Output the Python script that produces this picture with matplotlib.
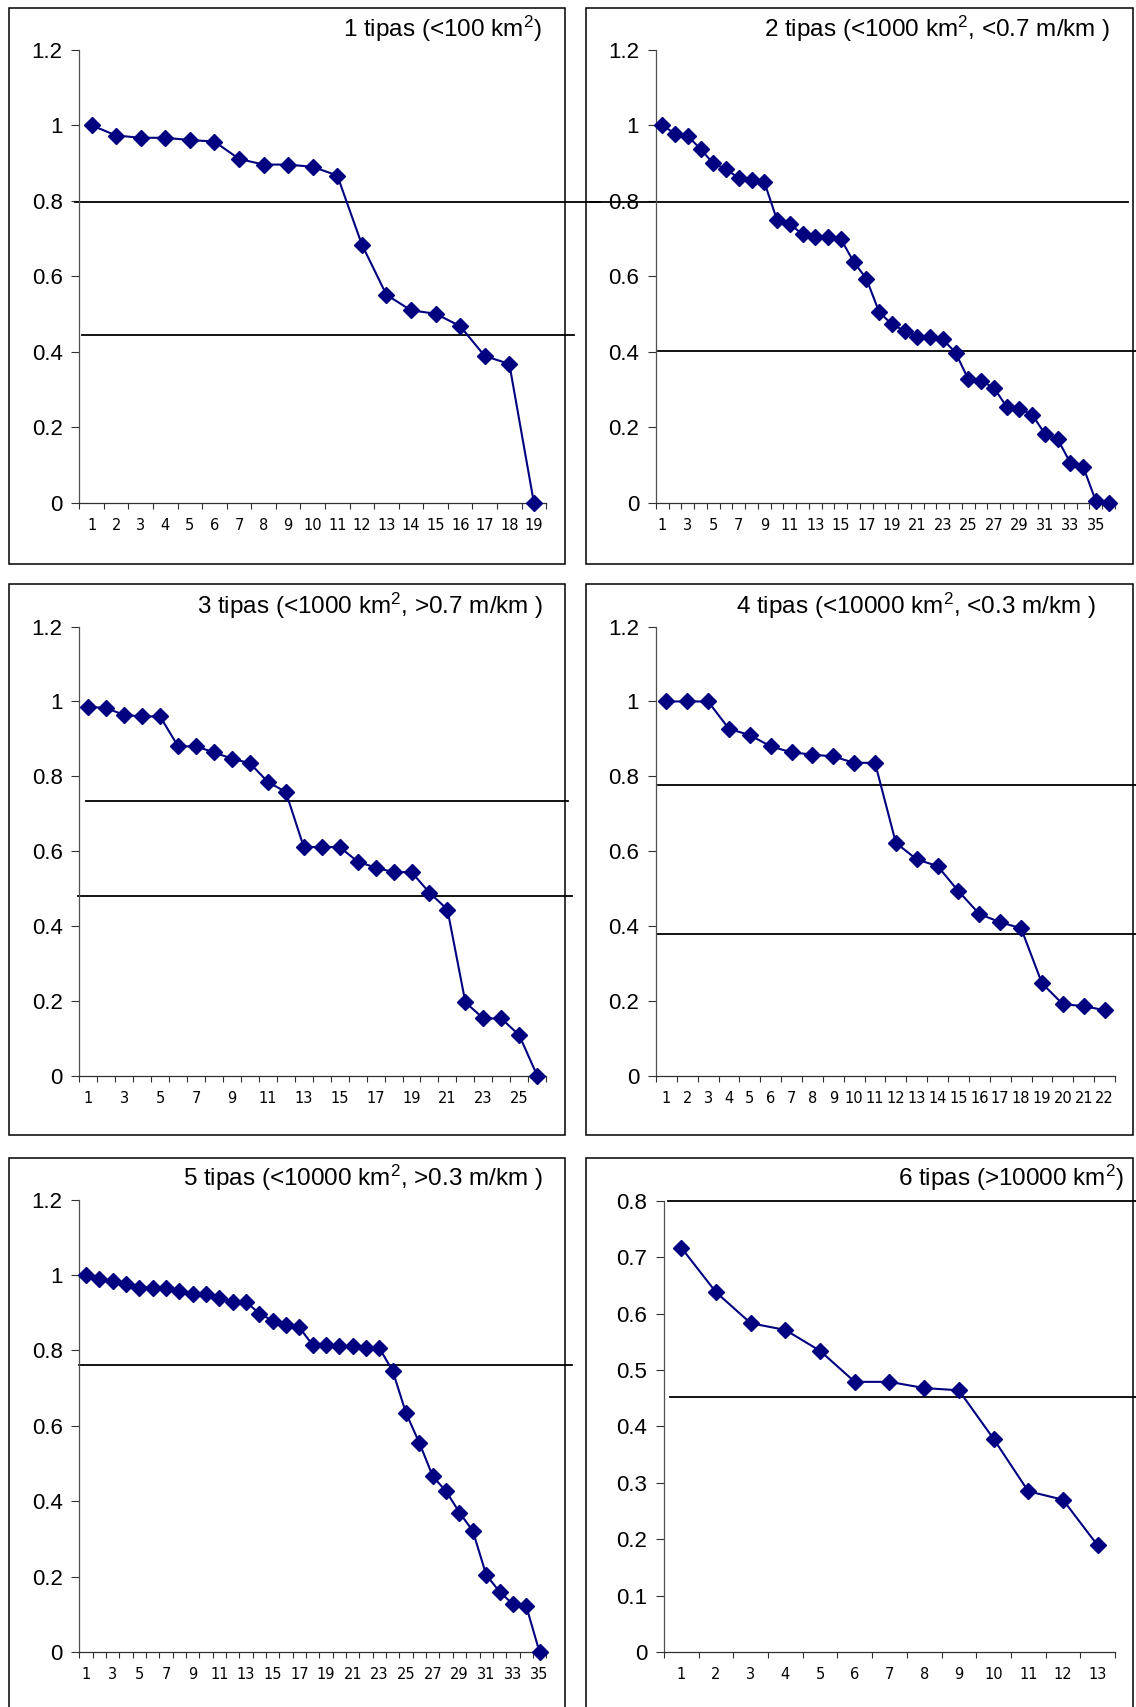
import matplotlib
matplotlib.use('Agg')
import matplotlib.pyplot as plt
from matplotlib import rcParams
from matplotlib.patches import Rectangle
from matplotlib.transforms import blended_transform_factory

config = {
    "font.family": ['Liberation Sans', 'DejaVu Sans'],
    "mathtext.fontset": 'custom',
    "mathtext.rm": 'Liberation Sans',
    "mathtext.it": 'Liberation Sans:italic',
    "mathtext.bf": 'Liberation Sans:bold',
}
rcParams.update(config)

# ---- duomenys (nuskaityta is paveikslo) ----
titles = ['1 tipas (<100 km$^\\mathrm{2}$)',
          '2 tipas (<1000 km$^\\mathrm{2}$, <0.7 m/km )',
          '3 tipas (<1000 km$^\\mathrm{2}$, >0.7 m/km )',
          '4 tipas (<10000 km$^\\mathrm{2}$, <0.3 m/km )',
          '5 tipas (<10000 km$^\\mathrm{2}$, >0.3 m/km )',
          '6 tipas (>10000 km$^\\mathrm{2}$)']

tipas1 = [1.0, 0.973, 0.967, 0.967, 0.961, 0.957, 0.911, 0.896, 0.896, 0.890,
          0.867, 0.684, 0.551, 0.510, 0.501, 0.468, 0.389, 0.368, 0.0]
tipas2 = [1.0, 0.978, 0.972, 0.937, 0.899, 0.884, 0.860, 0.856, 0.850, 0.749,
          0.739, 0.711, 0.705, 0.705, 0.699, 0.639, 0.594, 0.506, 0.473, 0.456,
          0.440, 0.440, 0.433, 0.398, 0.327, 0.323, 0.305, 0.255, 0.250, 0.234,
          0.183, 0.169, 0.106, 0.096, 0.005, 0.0]
tipas3 = [0.986, 0.982, 0.964, 0.960, 0.960, 0.880, 0.880, 0.864, 0.847, 0.835,
          0.785, 0.758, 0.611, 0.611, 0.611, 0.572, 0.556, 0.544, 0.544, 0.489,
          0.444, 0.196, 0.153, 0.153, 0.108, 0.0]
tipas4 = [1.0, 1.0, 1.0, 0.927, 0.910, 0.880, 0.864, 0.858, 0.853, 0.836,
          0.836, 0.622, 0.578, 0.560, 0.493, 0.432, 0.410, 0.394, 0.247, 0.191,
          0.186, 0.175]
tipas5 = [1.0, 0.989, 0.983, 0.977, 0.967, 0.967, 0.967, 0.958, 0.949, 0.949,
          0.940, 0.929, 0.929, 0.898, 0.879, 0.867, 0.861, 0.814, 0.814, 0.811,
          0.811, 0.806, 0.806, 0.745, 0.633, 0.554, 0.466, 0.426, 0.370, 0.321,
          0.205, 0.160, 0.127, 0.122, 0.0]
tipas6 = [0.717, 0.638, 0.583, 0.571, 0.534, 0.479, 0.479, 0.468, 0.464, 0.378,
          0.285, 0.270, 0.189]

# ribines linijos (virsutine, apatine)
ribos1 = [0.797, 0.444]
ribos2 = [0.797, 0.401]
ribos3 = [0.735, 0.480]
ribos4 = [0.778, 0.379]
ribos5 = [0.762]
ribos6 = [0.800, 0.452]

yticks_a = [0, 0.2, 0.4, 0.6, 0.8, 1.0, 1.2]
ylabels_a = ['0', '0.2', '0.4', '0.6', '0.8', '1', '1.2']
yticks_b = [0, 0.1, 0.2, 0.3, 0.4, 0.5, 0.6, 0.7, 0.8]
ylabels_b = ['0', '0.1', '0.2', '0.3', '0.4', '0.5', '0.6', '0.7', '0.8']

W, H = 1136, 1707
fig = plt.figure(figsize=(W / 100, H / 100), dpi=100)

# pikseliai -> figuros koordinates
def fx(px):
    return px / W

def fy(py):
    return 1 - py / H

# (duomenys, ribos, kas kelinta x zyme, y zymes, y zymiu tekstai,
#  asys [kaire, desine, virsus, apacia], remas [x0, x1, y0, y1],
#  pavadinimo desinys krastas ir bazine linija, ribiniu liniju x intervalai)
panels = [
    (tipas1, ribos1, 1, yticks_a, ylabels_a, [79.3, 546.2, 49.8, 502.9],
     [9, 565, 8, 564], (542, 37), [(74.5, 600), (82, 574)]),
    (tipas2, ribos2, 2, yticks_a, ylabels_a, [655.9, 1115, 49.8, 502.9],
     [586, 1133, 8, 564], (1110, 37), [(590, 1128), (658, 1136)]),
    (tipas3, ribos3, 2, yticks_a, ylabels_a, [79.3, 546.2, 626.6, 1075.7],
     [9, 565, 584, 1135], (543, 614), [(85.5, 568), (78, 572)]),
    (tipas4, ribos4, 1, yticks_a, ylabels_a, [655.9, 1115, 626.6, 1075.7],
     [586, 1133, 584, 1135], (1096, 614), [(658, 1136), (657, 1136)]),
    (tipas5, ribos5, 2, yticks_a, ylabels_a, [79.3, 546.2, 1199.7, 1652],
     [9, 565, 1158, 1720], (543, 1186), [(79, 572)]),
    (tipas6, ribos6, 1, yticks_b, ylabels_b, [663.9, 1115, 1200.8, 1652],
     [586, 1133, 1158, 1720], (1124, 1186), [(667.5, 1136), (670, 1136)]),
]

for (vals, ribos, step, yt, yl, pos, box, tpos, spans), title in zip(panels, titles):
    # remelis aplink diagrama
    fig.patches.append(Rectangle((fx(box[0]), fy(box[3])), fx(box[1] - box[0]),
                                 (box[3] - box[2]) / H, transform=fig.transFigure,
                                 fill=False, edgecolor='black', lw=1.1, clip_on=False))

    ax = fig.add_axes([fx(pos[0]), fy(pos[3]), fx(pos[1] - pos[0]), (pos[3] - pos[2]) / H])
    ax.patch.set_alpha(0)
    n = len(vals)
    x = list(range(1, n + 1))
    ax.plot(x, vals, color='#000080', lw=1.5, marker='D', markersize=8.5, zorder=3,
            clip_on=False)

    ax.set_xlim(0.5, n + 0.5)
    ax.set_ylim(yt[0], yt[-1])
    ax.set_yticks(yt)
    ax.set_yticklabels(yl)
    ax.set_xticks(x)
    ax.set_xticklabels([str(i) if (i - 1) % step == 0 else '' for i in x],
                       fontfamily='DejaVu Sans', fontsize=10.5)
    ax.set_xticks([i + 0.5 for i in range(n + 1)], minor=True)
    ax.tick_params(axis='x', which='major', length=0, pad=11)
    ax.tick_params(axis='x', which='minor', length=4, width=0.8, direction='out', color='#303030')
    ax.tick_params(axis='y', length=6, width=0.8, direction='out', pad=6,
                   labelsize=16, color='#303030')

    for s in ['top', 'right']:
        ax.spines[s].set_visible(False)
    ax.spines['left'].set_color('#505050')
    ax.spines['bottom'].set_color('#303030')
    ax.spines['left'].set_linewidth(0.9)
    ax.spines['bottom'].set_linewidth(0.9)

    # horizontalios ribines linijos
    tr = blended_transform_factory(fig.transFigure, ax.transData)
    for r, (x0, x1) in zip(ribos, spans):
        ax.plot([fx(x0), fx(x1)], [r, r], color='black', lw=1.3, transform=tr,
                clip_on=False, zorder=2)

    fig.text(fx(tpos[0]), fy(tpos[1]), title, ha='right', va='baseline', fontsize=17.5)

plt.savefig('out.png', dpi=100)
